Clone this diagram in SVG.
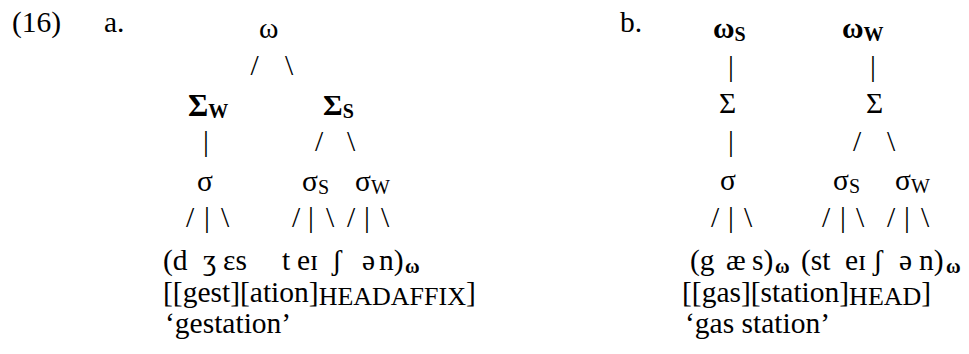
<svg xmlns="http://www.w3.org/2000/svg" width="969" height="354" viewBox="0 0 969 354" font-family="'Liberation Serif', 'Times New Roman', serif" font-size="29.5">
<style>
text{font-family:'Liberation Serif','Times New Roman',serif;font-size:29.5px;fill:#000000}
.b{font-weight:bold}
.s{font-size:20px}
.sc{font-size:26px}
.m{text-anchor:middle}
</style>
<rect width="969" height="354" fill="#ffffff"/>
<g id="labels">
<text x="12" y="32">(16)</text>
<text x="104" y="32">a.</text>
<text x="620" y="32">b.</text>
</g>
<g id="connectors">
<text class="m" x="254.5" y="75">/</text>
<text class="m" x="289" y="75">\</text>
<text class="m" x="206" y="151">|</text>
<text class="m" x="319" y="151">/</text>
<text class="m" x="351" y="151">\</text>
<text class="m" x="190" y="227">/</text>
<text class="m" x="207" y="227">|</text>
<text class="m" x="225" y="227">\</text>
<text class="m" x="296" y="227">/</text>
<text class="m" x="311" y="227">|</text>
<text class="m" x="330" y="227">\</text>
<text class="m" x="351" y="227">/</text>
<text class="m" x="367" y="227">|</text>
<text class="m" x="385" y="227">\</text>
<text class="m" x="731" y="76">|</text>
<text class="m" x="873" y="76">|</text>
<text class="m" x="731" y="151">|</text>
<text class="m" x="857" y="151">/</text>
<text class="m" x="891" y="151">\</text>
<text class="m" x="715" y="227">/</text>
<text class="m" x="731" y="227">|</text>
<text class="m" x="748" y="227">\</text>
<text class="m" x="826" y="227">/</text>
<text class="m" x="843" y="227">|</text>
<text class="m" x="860" y="227">\</text>
<text class="m" x="891" y="227">/</text>
<text class="m" x="907" y="227">|</text>
<text class="m" x="925" y="227">\</text>
</g>
<g id="node-a-omega"><text x="259" y="38">ω</text></g>
<g id="node-a-sigmaW"><text class="b" x="188" y="116"><tspan style="font-size:31px">Σ</tspan><tspan class="s" dy="2">W</tspan></text></g>
<g id="node-a-sigmaS"><text class="b" x="323" y="115"><tspan style="font-size:30px">Σ</tspan><tspan class="s" dy="3">S</tspan></text></g>
<g id="node-a-syl"><text x="197" y="191">σ</text></g>
<g id="node-a-sylS"><text x="302" y="191">σ<tspan class="s" dy="3">S</tspan></text></g>
<g id="node-a-sylW"><text x="355" y="191">σ<tspan class="s" dy="3">W</tspan></text></g>
<g id="node-a-segments">
<text y="270"><tspan x="163">(d</tspan><tspan x="203">ʒ</tspan><tspan x="223">εs</tspan><tspan x="282">t</tspan><tspan x="297">eɪ</tspan><tspan x="332">ʃ</tspan><tspan x="362">ə</tspan><tspan x="379">n)</tspan><tspan class="b s" x="405" dy="3">ω</tspan></text>
<text x="163" y="302">[[gest][ation]<tspan class="sc" dy="3">HEADAFFIX</tspan><tspan dy="-3">]</tspan></text>
<text x="165" y="333">‘gestation’</text>
</g>
<g id="node-b-omegaS"><text class="b" x="713" y="38">ω<tspan class="s" dy="3">S</tspan></text></g>
<g id="node-b-omegaW"><text class="b" x="842" y="38">ω<tspan class="s" dy="3">W</tspan></text></g>
<g id="node-b-sigma1"><text x="719" y="113">Σ</text></g>
<g id="node-b-sigma2"><text x="866" y="113">Σ</text></g>
<g id="node-b-syl"><text x="720" y="190">σ</text></g>
<g id="node-b-sylS"><text x="833" y="190">σ<tspan class="s" dy="3">S</tspan></text></g>
<g id="node-b-sylW"><text x="895" y="190">σ<tspan class="s" dy="3">W</tspan></text></g>
<g id="node-b-segments">
<text y="270"><tspan x="690">(g</tspan><tspan x="726">æ</tspan><tspan x="752">s)</tspan><tspan class="b s" x="775" dy="3">ω</tspan><tspan x="801" dy="-3">(st</tspan><tspan x="845">eɪ</tspan><tspan x="873">ʃ</tspan><tspan x="899">ə</tspan><tspan x="919">n)</tspan><tspan class="b s" x="946" dy="3">ω</tspan></text>
<text x="682" y="302">[[gas][station]<tspan class="sc" dy="3">HEAD</tspan><tspan dy="-3">]</tspan></text>
<text x="685" y="333">‘gas station’</text>
</g>
</svg>
